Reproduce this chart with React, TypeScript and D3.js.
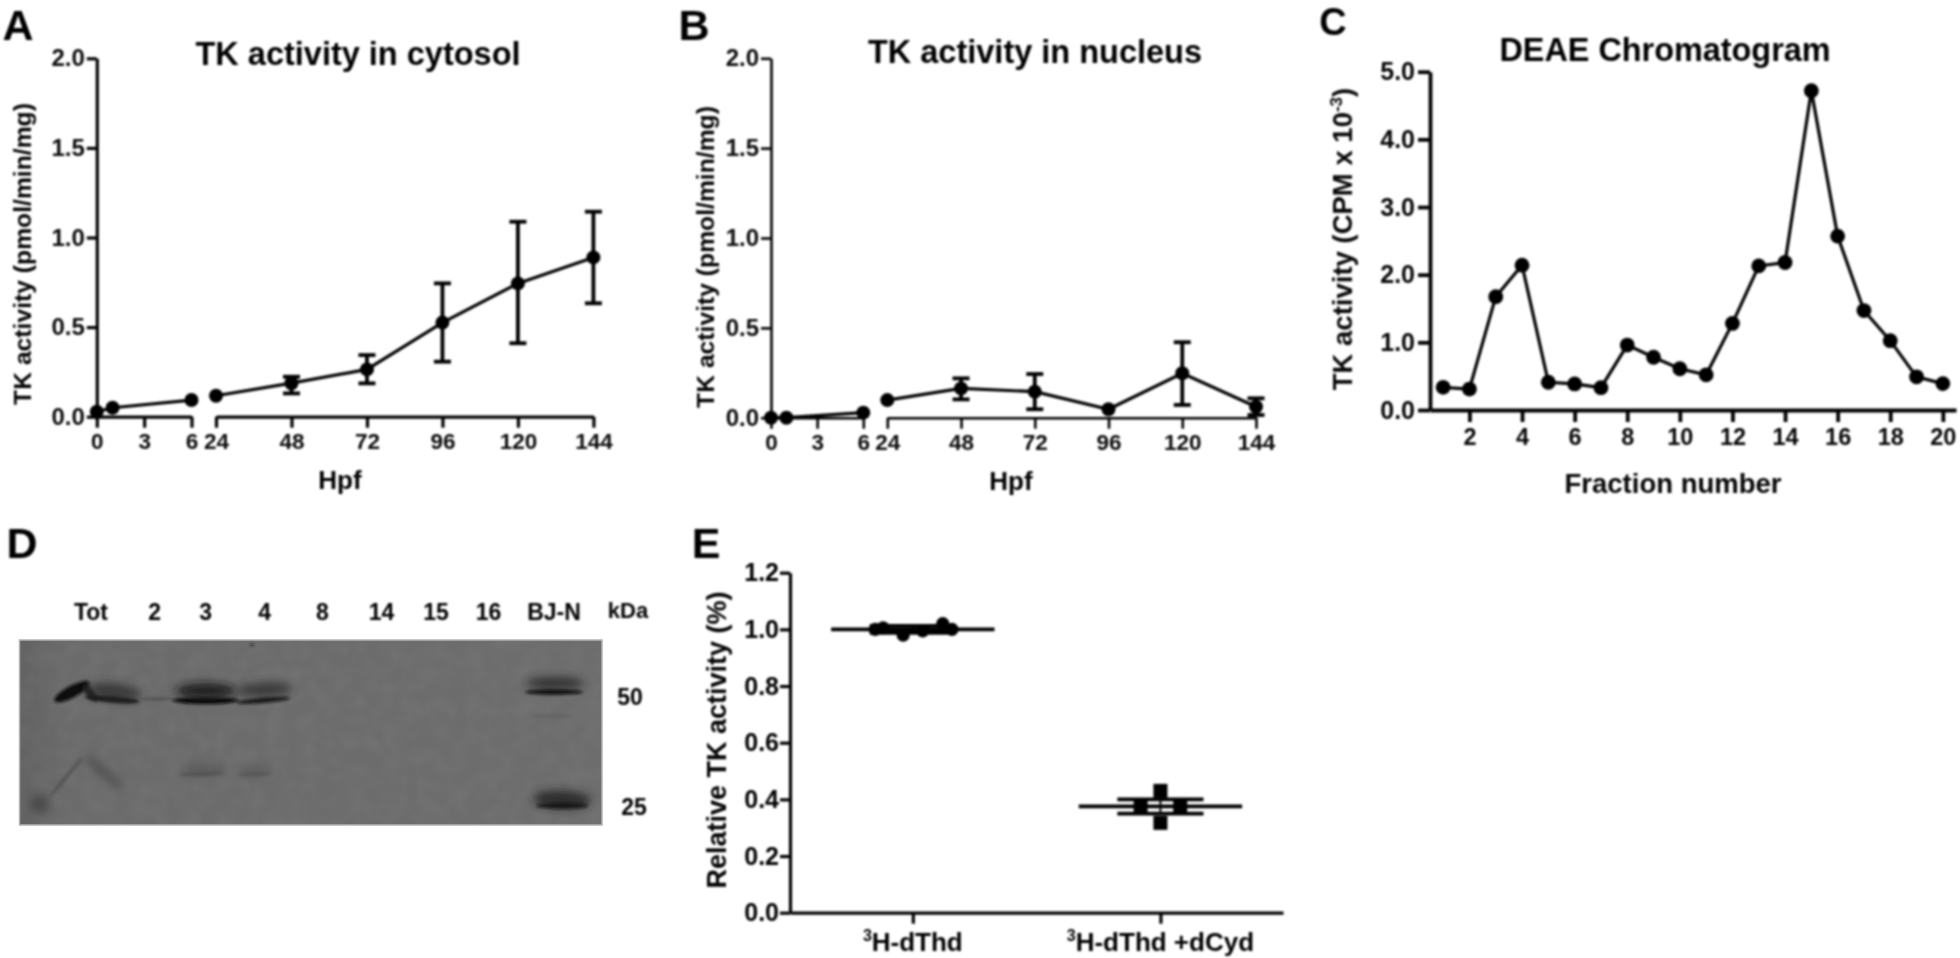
import React, { useEffect, useRef } from 'react';
import * as d3 from 'd3';

// Panels A and B share the broken Hpf axis
const hpfEarly = [0, 1, 6];
const hpfLate = [24, 48, 72, 96, 120, 144];
const earlyTicks = [0, 3, 6];
const activityTicks = [0, 0.5, 1, 1.5, 2];

const cytosolEarly = [0.028, 0.05, 0.093];
const cytosolLate = [0.117, 0.187, 0.264, 0.525, 0.744, 0.889];
const cytosolHigh = [null, 0.223, 0.344, 0.744, 1.088, 1.144];
const cytosolLow = [null, 0.13, 0.186, 0.307, 0.41, 0.633];

const nucleusEarly = [0, 0, 0.028];
const nucleusLate = [0.098, 0.163, 0.145, 0.047, 0.247, 0.061];
const nucleusHigh = [null, 0.219, 0.243, null, 0.42, 0.108];
const nucleusLow = [null, 0.102, 0.047, null, 0.071, 0.015];

// Panel C
const fractions = d3.range(1, 21);
const fractionTicks = [2, 4, 6, 8, 10, 12, 14, 16, 18, 20];
const cpmTicks = [0, 1, 2, 3, 4, 5];
const cpm = [0.335, 0.31, 1.675, 2.14, 0.41, 0.385, 0.33, 0.96, 0.78, 0.61, 0.52, 1.28, 2.13, 2.18, 4.72, 2.57, 1.47, 1.025, 0.49, 0.39];

// Panel D, western blot
const laneLabels = ['Tot', '2', '3', '4', '8', '14', '15', '16', 'BJ-N'];
const laneSlots = [0, 1.1, 1.98, 3, 4, 5.02, 5.96, 6.87, 8];
const markerSizes = [50, 25];
const gelBands = [
  // lane, width in lanes, kDa, thickness, tilt, grey, opacity, soft or sharp
  { lane: -0.33, width: 0.68, kda: 51.7, thick: 12, tilt: -28, grey: '#101010', op: 1, soft: false },
  { lane: -0.02, width: 0.36, kda: 51.4, thick: 8, tilt: 50, grey: '#1a1a1a', op: 0.9, soft: false },
  { lane: 0.37, width: 0.95, kda: 49.3, thick: 7, tilt: 5, grey: '#161616', op: 0.95, soft: false },
  { lane: 0.4, width: 0.95, kda: 51.8, thick: 16, tilt: 6, grey: '#2a2a2a', op: 0.75, soft: true },
  { lane: 1.15, width: 0.6, kda: 49.4, thick: 2.5, tilt: 0, grey: '#333', op: 0.55, soft: false },
  { lane: 1.98, width: 1.15, kda: 48.9, thick: 7, tilt: 0, grey: '#0d0d0d', op: 1, soft: false },
  { lane: 1.98, width: 1.05, kda: 52, thick: 15, tilt: 0, grey: '#181818', op: 0.9, soft: true },
  { lane: 2.98, width: 0.92, kda: 49, thick: 5, tilt: -5, grey: '#111', op: 0.95, soft: false },
  { lane: 3, width: 0.95, kda: 52.4, thick: 14, tilt: -3, grey: '#2a2a2a', op: 0.75, soft: true },
  { lane: 8.02, width: 1, kda: 54.5, thick: 13, tilt: 0, grey: '#262626', op: 0.8, soft: true },
  { lane: 8, width: 1, kda: 51.6, thick: 5, tilt: 0, grey: '#0a0a0a', op: 1, soft: false },
  { lane: 7.98, width: 0.7, kda: 44.4, thick: 3, tilt: 0, grey: '#4a4a4a', op: 0.35, soft: false },
  { lane: 8.14, width: 1, kda: 26.2, thick: 18, tilt: 3, grey: '#202020', op: 0.85, soft: true },
  { lane: 8.14, width: 0.9, kda: 25.2, thick: 6, tilt: 0, grey: '#101010', op: 0.8, soft: false },
  { lane: 1.92, width: 0.78, kda: 30.8, thick: 3, tilt: -2, grey: '#3a3a3a', op: 0.6, soft: false },
  { lane: 1.95, width: 0.75, kda: 31.6, thick: 13, tilt: 0, grey: '#505050', op: 0.55, soft: true },
  { lane: 2.82, width: 0.58, kda: 30.7, thick: 3, tilt: -2, grey: '#444', op: 0.5, soft: false },
  { lane: 2.85, width: 0.6, kda: 31.3, thick: 11, tilt: 0, grey: '#505050', op: 0.5, soft: true },
  { lane: -0.43, width: 0.9, kda: 30.2, thick: 4, tilt: -50, grey: '#484848', op: 0.65, soft: false },
  { lane: 0.22, width: 0.87, kda: 31.1, thick: 10, tilt: 40, grey: '#484848', op: 0.7, soft: true },
  { lane: -0.9, width: 0.36, kda: 25.4, thick: 18, tilt: 0, grey: '#464646', op: 0.85, soft: true },
  { lane: 2.78, width: 0.07, kda: 69.5, thick: 3, tilt: 0, grey: '#222', op: 0.8, soft: false },
];

// Panel E
const relativeTicks = [0, 0.2, 0.4, 0.6, 0.8, 1, 1.2];
const treatmentSlots = [0, 1];
const thdOffsets = [-0.152, -0.12, -0.039, 0.04, 0.121, 0.158];
const thdValues = [1.0, 1.005, 0.98, 0.995, 1.02, 1.0];
const cydOffsets = [-0.08, 0, 0, 0.08];
const cydValues = [0.375, 0.43, 0.317, 0.375];
const groupMeans = [1.0, 0.375];
const groupErrors = [0.012, 0.025];

const FONT = '"Liberation Sans", Arial, sans-serif';
const INK = '#1c1c1c';

type Sel = d3.Selection<any, any, any, any>;

function label(g: Sel, x: number, y: number, text: string, size: number, fill = INK, rotate = false) {
  const t = g.append('text')
    .attr('text-anchor', 'middle')
    .attr('font-family', FONT)
    .attr('font-weight', 'bold')
    .attr('font-size', size)
    .attr('fill', fill)
    .text(text);
  if (rotate) t.attr('transform', `translate(${x},${y}) rotate(-90)`);
  else t.attr('x', x).attr('y', y);
  return t;
}

function styleAxis(a: Sel, width: number, size: number, fill = INK) {
  a.selectAll('path').attr('stroke', INK).attr('stroke-width', width);
  a.selectAll('line').attr('stroke', INK).attr('stroke-width', width);
  a.selectAll('text')
    .attr('font-family', FONT)
    .attr('font-weight', 'bold')
    .attr('font-size', size)
    .attr('fill', fill);
}

function hpfPanel(g: Sel, opt: any) {
  const xEarly = d3.scaleLinear().domain([0, 6]).range(opt.early);
  const xLate = d3.scaleLinear().domain([24, 144]).range(opt.late);
  const y = d3.scaleLinear().domain([0, 2]).range(opt.y);

  const yAxis = g.append('g').attr('transform', `translate(${opt.early[0]},0)`)
    .call(d3.axisLeft(y).tickValues(activityTicks).tickSize(opt.tick).tickSizeOuter(0).tickPadding(2).tickFormat(d3.format('.1f')));
  styleAxis(yAxis, opt.axis, 24, '#444');

  [
    { scale: xEarly, ticks: earlyTicks },
    { scale: xLate, ticks: hpfLate },
  ].forEach(({ scale, ticks }) => {
    const a = g.append('g').attr('transform', `translate(0,${opt.y[0]})`)
      .call(d3.axisBottom(scale).tickValues(ticks).tickSize(11).tickSizeOuter(0).tickPadding(5).tickFormat(d3.format('d')));
    styleAxis(a, opt.axis, 22.5, '#444');
  });

  const line = g.append('g').attr('fill', 'none').attr('stroke', '#222').attr('stroke-width', 3.2);
  const lineOf = (xs: number[], vs: number[], sx: any) =>
    d3.line<number>().x(d => sx(d)).y((_, i) => y(vs[i]))(xs) || '';
  line.append('path').attr('d', lineOf(hpfEarly, opt.earlyVals, xEarly));
  line.append('path').attr('d', lineOf(hpfLate, opt.lateVals, xLate));

  // error bars with caps
  const bars = g.append('g').attr('stroke', '#0c0c0c').attr('stroke-width', 3.8);
  hpfLate.forEach((h, i) => {
    const hi = opt.high[i];
    const lo = opt.low[i];
    if (hi == null) return;
    const cx = xLate(h);
    bars.append('line').attr('x1', cx).attr('x2', cx).attr('y1', y(hi)).attr('y2', y(lo));
    [hi, lo].forEach(v => {
      bars.append('line').attr('x1', cx - 8.5).attr('x2', cx + 8.5).attr('y1', y(v)).attr('y2', y(v));
    });
  });

  const dots = g.append('g').attr('fill', '#0c0c0c');
  hpfEarly.forEach((h, i) => dots.append('circle').attr('cx', xEarly(h)).attr('cy', y(opt.earlyVals[i])).attr('r', 7));
  hpfLate.forEach((h, i) => dots.append('circle').attr('cx', xLate(h)).attr('cy', y(opt.lateVals[i])).attr('r', 7));

  label(g, opt.title[0], opt.title[1], opt.titleText, 32.5);
  label(g, opt.ylab[0], opt.ylab[1], 'TK activity (pmol/min/mg)', 24.7, INK, true);
  label(g, opt.xlab[0], opt.xlab[1], 'Hpf', 26);
}

function chromatogram(g: Sel) {
  const x = d3.scaleLinear().domain([0.5, 20.5]).range([1430, 1956]);
  const y = d3.scaleLinear().domain([0, 5]).range([410, 71.7]);

  const ya = g.append('g').attr('transform', 'translate(1430,0)')
    .call(d3.axisLeft(y).tickValues(cpmTicks).tickSize(12).tickSizeOuter(0).tickPadding(3).tickFormat(d3.format('.1f')));
  styleAxis(ya, 3.8, 25, '#333');
  const xa = g.append('g').attr('transform', 'translate(0,410)')
    .call(d3.axisBottom(x).tickValues(fractionTicks).tickSize(12).tickSizeOuter(0).tickPadding(6).tickFormat(d3.format('d')));
  styleAxis(xa, 3.8, 23.5, '#333');

  const path = d3.line<number>().x(d => x(d)).y((_, i) => y(cpm[i]))(fractions) || '';
  g.append('path').attr('d', path).attr('fill', 'none').attr('stroke', '#222').attr('stroke-width', 3.2);
  g.append('g').attr('fill', '#0c0c0c').selectAll('circle').data(fractions).join('circle')
    .attr('cx', d => x(d)).attr('cy', (_, i) => y(cpm[i])).attr('r', 7.4);

  label(g, 1665, 61, 'DEAE Chromatogram', 32.4);
  label(g, 1673, 493, 'Fraction number', 27.5, '#333');

  const yl = label(g, 1352, 239, 'TK activity (CPM x 10', 27.5, '#333', true);
  yl.append('tspan').attr('font-size', 17).attr('dy', -10).text('-3');
  yl.append('tspan').attr('dy', 10).text(')');
}

const gelX = d3.scaleLinear().domain([0, 8]).range([91, 554]);
const gelY = d3.scaleLog().domain([50, 25]).range([697, 807]);

function westernBlot(g: Sel) {
  const defs = g.append('defs');
  defs.append('filter').attr('id', 'bandSoft').attr('x', '-50%').attr('y', '-100%').attr('width', '200%').attr('height', '300%')
    .append('feGaussianBlur').attr('stdDeviation', 4);
  defs.append('filter').attr('id', 'bandSharp').attr('x', '-30%').attr('y', '-100%').attr('width', '160%').attr('height', '300%')
    .append('feGaussianBlur').attr('stdDeviation', 1.6);
  const grain = defs.append('filter').attr('id', 'gelGrain').attr('x', 0).attr('y', 0).attr('width', '100%').attr('height', '100%');
  grain.append('feTurbulence').attr('type', 'fractalNoise').attr('baseFrequency', 0.06).attr('numOctaves', 2).attr('seed', 4);
  grain.append('feColorMatrix').attr('type', 'matrix').attr('values', '0 0 0 0 0.4  0 0 0 0 0.4  0 0 0 0 0.4  0 0 0 0.9 -0.3');
  const shade = defs.append('linearGradient').attr('id', 'gelShade').attr('x1', 0).attr('x2', 1).attr('y1', 0).attr('y2', 0);
  shade.append('stop').attr('offset', 0).attr('stop-color', '#626262');
  shade.append('stop').attr('offset', 0.08).attr('stop-color', '#6b6b6b');
  shade.append('stop').attr('offset', 1).attr('stop-color', '#6d6d6d');
  const clip = defs.append('clipPath').attr('id', 'gelClip');
  clip.append('rect').attr('x', 19.5).attr('y', 640).attr('width', 582.5).attr('height', 185);

  g.append('rect').attr('x', 19.5).attr('y', 640).attr('width', 582.5).attr('height', 185)
    .attr('fill', 'url(#gelShade)').attr('stroke', '#b4b4b4').attr('stroke-width', 1.5);
  g.append('rect').attr('x', 19.5).attr('y', 640).attr('width', 582.5).attr('height', 185)
    .attr('filter', 'url(#gelGrain)').attr('opacity', 0.2);

  const bands = g.append('g').attr('clip-path', 'url(#gelClip)');
  const unit = gelX(1) - gelX(0);
  gelBands.forEach(b => {
    const cx = gelX(b.lane);
    const cy = gelY(b.kda);
    bands.append('ellipse')
      .attr('cx', cx).attr('cy', cy)
      .attr('rx', (b.width * unit) / 2).attr('ry', b.thick / 2)
      .attr('transform', `rotate(${b.tilt},${cx},${cy})`)
      .attr('fill', b.grey).attr('opacity', b.op)
      .attr('filter', b.soft ? 'url(#bandSoft)' : 'url(#bandSharp)');
  });
}

function blotLabels(g: Sel) {
  laneLabels.forEach((name, i) => label(g, gelX(laneSlots[i]), 620, name, 23, '#222'));
  label(g, 628, 618, 'kDa', 22, '#222');
  markerSizes.forEach((k, i) => label(g, i === 0 ? 630 : 634, gelY(k) + 8, String(k), 23, '#111'));
}

function treatmentPanel(g: Sel) {
  const x = d3.scaleLinear().domain([-0.496, 1.495]).range([790, 1283]);
  const y = d3.scaleLinear().domain([0, 1.2]).range([912.7, 572.7]);

  const ya = g.append('g').attr('transform', 'translate(790,0)')
    .call(d3.axisLeft(y).tickValues(relativeTicks).tickSize(10).tickSizeOuter(0).tickPadding(1).tickFormat(d3.format('.1f')));
  styleAxis(ya, 3.2, 25, '#222');
  const xa = g.append('g').attr('transform', 'translate(0,912.7)')
    .call(d3.axisBottom(x).tickValues(treatmentSlots).tickSize(11).tickSizeOuter(0).tickFormat(() => ''));
  styleAxis(xa, 3.2, 25);

  const stats = g.append('g').attr('stroke', '#0c0c0c').attr('stroke-width', 3.8);
  groupMeans.forEach((m, i) => {
    const err = groupErrors[i];
    stats.append('line').attr('x1', x(i - 0.33)).attr('x2', x(i + 0.33)).attr('y1', y(m)).attr('y2', y(m));
    [m + err, m - err].forEach(v => {
      stats.append('line').attr('x1', x(i - 0.174)).attr('x2', x(i + 0.174)).attr('y1', y(v)).attr('y2', y(v));
    });
    stats.append('line').attr('x1', x(i)).attr('x2', x(i)).attr('y1', y(m + err)).attr('y2', y(m - err))
      .attr('stroke-width', 2);
  });

  g.append('g').attr('fill', '#080808').selectAll('circle').data(thdValues).join('circle')
    .attr('cx', (_, i) => x(thdOffsets[i])).attr('cy', d => y(d)).attr('r', 6.6);
  const side = 14;
  g.append('g').attr('fill', '#080808').selectAll('rect').data(cydValues).join('rect')
    .attr('x', (_, i) => x(1 + cydOffsets[i]) - side / 2).attr('y', d => y(d) - side / 2)
    .attr('width', side).attr('height', side);

  const names = ['H-dThd', 'H-dThd +dCyd'];
  names.forEach((name, i) => {
    const t = label(g, x(i), 951, '', 26);
    t.append('tspan').attr('font-size', 16).attr('dy', -10).text('3');
    t.append('tspan').attr('dy', 10).text(name);
  });
  label(g, 726, 740, 'Relative TK activity (%)', 27, '#222', true);
}

const App: React.FC = () => {
  const svgRef = useRef<SVGSVGElement>(null);

  useEffect(() => {
    if (!svgRef.current) return;
    const svg = d3.select(svgRef.current);
    svg.selectAll('*').remove();

    // the source figure is a soft, resampled raster: blur, then pull the greys back down
    const soften = svg.append('defs').append('filter').attr('id', 'soften')
      .attr('x', 0).attr('y', 0).attr('width', 1960).attr('height', 958)
      .attr('filterUnits', 'userSpaceOnUse')
      .attr('color-interpolation-filters', 'sRGB');
    soften.append('feGaussianBlur').attr('stdDeviation', 0.8);
    const curve = soften.append('feComponentTransfer');
    ['feFuncR', 'feFuncG', 'feFuncB'].forEach(fn => {
      curve.append(fn).attr('type', 'gamma').attr('amplitude', 1).attr('exponent', 2.2).attr('offset', 0);
    });

    svg.append('rect').attr('width', 1960).attr('height', 958).attr('fill', '#fff');
    const root = svg.append('g').attr('filter', 'url(#soften)');

    hpfPanel(root, {
      early: [96.8, 191.5], late: [216, 593.4], y: [416.7, 58.3], axis: 3.2, tick: 10,
      earlyVals: cytosolEarly, lateVals: cytosolLate, high: cytosolHigh, low: cytosolLow,
      titleText: 'TK activity in cytosol', title: [358, 65], ylab: [31, 254], xlab: [340, 489],
    });
    hpfPanel(root, {
      early: [771, 863.3], late: [887.3, 1256], y: [417.7, 58.3], axis: 2.6, tick: 10,
      earlyVals: nucleusEarly, lateVals: nucleusLate, high: nucleusHigh, low: nucleusLow,
      titleText: 'TK activity in nucleus', title: [1035, 63], ylab: [714, 257], xlab: [1011, 490],
    });
    chromatogram(root);
    blotLabels(root);
    treatmentPanel(root);

    label(root, 18, 40, 'A', 43, '#111');
    label(root, 694, 40, 'B', 43, '#111');
    label(root, 1333, 35, 'C', 38, '#111');
    label(root, 22, 558, 'D', 43, '#111');
    label(root, 706, 558, 'E', 43, '#111');

    westernBlot(svg.append('g'));
  }, []);

  return (
    <svg
      ref={svgRef}
      width={1960}
      height={958}
      viewBox="0 0 1960 958"
      style={{ position: 'absolute', left: 0, top: 0, display: 'block' }}
    />
  );
};

export default App;
